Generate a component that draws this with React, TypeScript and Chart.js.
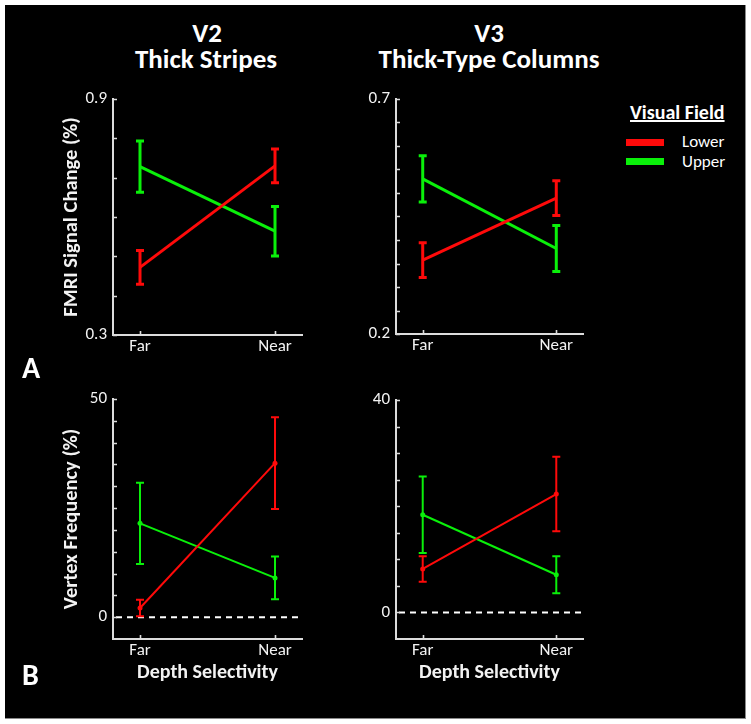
import React, { useEffect, useRef } from 'react';
import { Chart, registerables } from 'chart.js';

Chart.register(...registerables);

// ---------- data ----------
const categories = ['Far', 'Near'];
const seriesNames = ['Lower', 'Upper'];

// Panel A: fMRI signal change (%)
const v2SignalLower = [0.472, 0.73];
const v2SignalLowerErr = [0.043, 0.043];
const v2SignalUpper = [0.728, 0.564];
const v2SignalUpperErr = [0.065, 0.063];
const v2SignalTicks = [0.3, 0.4, 0.5, 0.6, 0.7, 0.8, 0.9];
const v2SignalTickLabels = ['0.3', '', '', '', '', '', '0.9'];

const v3SignalLower = [0.357, 0.489];
const v3SignalLowerErr = [0.037, 0.037];
const v3SignalUpper = [0.53, 0.382];
const v3SignalUpperErr = [0.049, 0.049];
const v3SignalTicks = [0.2, 0.25, 0.3, 0.35, 0.4, 0.45, 0.5, 0.55, 0.6, 0.65, 0.7];
const v3SignalTickLabels = ['0.2', '', '', '', '', '', '', '', '', '', '0.7'];

// Panel B: vertex frequency (%)
const v2FreqLower = [2.1, 35.3];
const v2FreqLowerErr = [1.9, 10.5];
const v2FreqUpper = [21.5, 9.0];
const v2FreqUpperErr = [9.3, 4.9];
const v2FreqTicks = [0, 5, 10, 15, 20, 25, 30, 35, 40, 45, 50];
const v2FreqTickLabels = ['0', '', '', '', '', '', '', '', '', '', '50'];

const v3FreqLower = [8.2, 22.3];
const v3FreqLowerErr = [2.4, 7.0];
const v3FreqUpper = [18.4, 7.1];
const v3FreqUpperErr = [7.2, 3.5];
const v3FreqTicks = [0, 5, 10, 15, 20, 25, 30, 35, 40];
const v3FreqTickLabels = ['0', '', '', '', '', '', '', '', '40'];

// ---------- style ----------
const FONT = "Carlito, Lato, 'Open Sans', sans-serif";
const RED = '#ff0a0a';
const GREEN = '#0af00a';
const AXIS = '#dcdcdc';
const TEXT = '#f2f2f2';

const errorBarPlugin = {
  id: 'errorBars',
  afterDatasetsDraw(chart: any, _args: any, opts: any) {
    const { ctx } = chart;
    const x = chart.scales.x;
    const y = chart.scales.y;
    chart.data.datasets.forEach((ds: any) => {
      ds.data.forEach((pt: any, i: number) => {
        const px = x.getPixelForValue(pt.x);
        const top = y.getPixelForValue(pt.y + ds.err[i]);
        const bot = y.getPixelForValue(pt.y - ds.err[i]);
        ctx.save();
        ctx.strokeStyle = ds.borderColor;
        ctx.lineWidth = opts.width;
        ctx.beginPath();
        ctx.moveTo(px, top);
        ctx.lineTo(px, bot);
        ctx.stroke();
        ctx.lineWidth = opts.capWidth;
        ctx.beginPath();
        ctx.moveTo(px - opts.cap, top);
        ctx.lineTo(px + opts.cap, top);
        ctx.moveTo(px - opts.cap, bot);
        ctx.lineTo(px + opts.cap, bot);
        ctx.stroke();
        ctx.restore();
      });
    });
  },
};

const zeroLinePlugin = {
  id: 'zeroLine',
  beforeDatasetsDraw(chart: any, _args: any, opts: any) {
    if (!opts.display) return;
    const { ctx, chartArea } = chart;
    const py = chart.scales.y.getPixelForValue(0);
    ctx.save();
    ctx.strokeStyle = '#ffffff';
    ctx.lineWidth = 2;
    ctx.setLineDash([6, 5]);
    ctx.beginPath();
    ctx.moveTo(chartArea.left + 3, py);
    ctx.lineTo(chartArea.right, py);
    ctx.stroke();
    ctx.restore();
  },
};

const innerTickPlugin = {
  id: 'innerTicks',
  afterDraw(chart: any) {
    const { ctx, chartArea } = chart;
    const x = chart.scales.x;
    const y = chart.scales.y;
    ctx.save();
    ctx.strokeStyle = AXIS;
    ctx.lineWidth = 1.6;
    ctx.beginPath();
    y.ticks.forEach((t: any) => {
      const py = Math.round(y.getPixelForValue(t.value)) + 0.5;
      ctx.moveTo(chartArea.left, py);
      ctx.lineTo(chartArea.left + 4, py);
    });
    x.ticks.forEach((t: any) => {
      const px = Math.round(x.getPixelForValue(t.value)) + 0.5;
      ctx.moveTo(px, chartArea.bottom);
      ctx.lineTo(px, chartArea.bottom - 4);
    });
    ctx.stroke();
    ctx.restore();
  },
};

type PanelSpec = {
  left: number;
  top: number;
  width: number;
  height: number;
  padTop: number;
  padRight: number;
  yWidth: number;
  xHeight: number;
  lower: number[];
  lowerErr: number[];
  upper: number[];
  upperErr: number[];
  yMin: number;
  yMax: number;
  yTicks: number[];
  yTickLabels: string[];
  yTitle?: string;
  xTitle?: string;
  lineWidth: number;
  pointRadius: number;
  errWidth: number;
  cap: number;
  zero: boolean;
};

function Panel({ spec }: { spec: PanelSpec }) {
  const ref = useRef<HTMLCanvasElement>(null);
  useEffect(() => {
    if (!ref.current) return;
    const s = spec;
    const mk = (vals: number[]) => vals.map((v, i) => ({ x: i, y: v }));
    const chart = new Chart(ref.current, {
      type: 'line',
      data: {
        datasets: [
          {
            label: seriesNames[0],
            data: mk(s.lower),
            err: s.lowerErr,
            borderColor: RED,
            backgroundColor: RED,
            borderWidth: s.lineWidth,
            pointRadius: s.pointRadius,
            pointBorderWidth: 0,
          } as any,
          {
            label: seriesNames[1],
            data: mk(s.upper),
            err: s.upperErr,
            borderColor: GREEN,
            backgroundColor: GREEN,
            borderWidth: s.lineWidth,
            pointRadius: s.pointRadius,
            pointBorderWidth: 0,
          } as any,
        ],
      },
      options: {
        animation: false,
        responsive: false,
        maintainAspectRatio: false,
        events: [],
        layout: { padding: { top: s.padTop, right: s.padRight, bottom: 0, left: 0 } },
        plugins: {
          legend: { display: false },
          tooltip: { enabled: false },
          errorBars: { width: s.errWidth, capWidth: s.errWidth, cap: s.cap },
          zeroLine: { display: s.zero },
        } as any,
        scales: {
          x: {
            type: 'linear',
            min: -0.2,
            max: 1.2,
            afterBuildTicks: (sc: any) => {
              sc.ticks = categories.map((_, i) => ({ value: i }));
            },
            afterFit: (sc: any) => {
              sc.height = s.xHeight;
            },
            ticks: {
              autoSkip: false,
              maxRotation: 0,
              color: TEXT,
              padding: 2,
              font: { family: FONT, size: 17 },
              callback: (v: any) => categories[v] ?? '',
            },
            grid: { display: false, drawTicks: false },
            border: { display: true, color: AXIS, width: 2 },
            title: s.xTitle
              ? {
                  display: true,
                  text: s.xTitle,
                  color: TEXT,
                  font: { family: FONT, size: 20, weight: 'bold' },
                  padding: { top: 0, bottom: 2 },
                }
              : { display: false },
          },
          y: {
            type: 'linear',
            min: s.yMin,
            max: s.yMax,
            afterBuildTicks: (sc: any) => {
              sc.ticks = s.yTicks.map((v) => ({ value: v }));
            },
            afterFit: (sc: any) => {
              sc.width = s.yWidth;
            },
            ticks: {
              autoSkip: false,
              color: TEXT,
              padding: 6,
              font: { family: FONT, size: 17 },
              callback: (_v: any, i: number) => s.yTickLabels[i] ?? '',
            },
            grid: { display: false, drawTicks: false },
            border: { display: true, color: AXIS, width: 2 },
            title: s.yTitle
              ? {
                  display: true,
                  text: s.yTitle,
                  color: TEXT,
                  font: { family: FONT, size: 20.5, weight: 'bold' },
                  padding: { top: 55, bottom: 0 },
                }
              : { display: false },
          },
        },
      } as any,
      plugins: [zeroLinePlugin, errorBarPlugin, innerTickPlugin],
    });
    return () => chart.destroy();
  }, [spec]);
  return (
    <canvas
      ref={ref}
      width={spec.width}
      height={spec.height}
      style={{
        position: 'absolute',
        left: spec.left,
        top: spec.top,
        width: spec.width,
        height: spec.height,
        display: 'block',
      }}
    />
  );
}

const panels: PanelSpec[] = [
  {
    left: 5, top: 80, width: 320, height: 280, padTop: 19, padRight: 23, yWidth: 108, xHeight: 25,
    lower: v2SignalLower, lowerErr: v2SignalLowerErr, upper: v2SignalUpper, upperErr: v2SignalUpperErr,
    yMin: 0.3, yMax: 0.9, yTicks: v2SignalTicks, yTickLabels: v2SignalTickLabels,
    yTitle: 'FMRI Signal Change (%)', lineWidth: 3, pointRadius: 0, errWidth: 3, cap: 4, zero: false,
  },
  {
    left: 330, top: 80, width: 280, height: 279, padTop: 19, padRight: 27, yWidth: 66, xHeight: 25,
    lower: v3SignalLower, lowerErr: v3SignalLowerErr, upper: v3SignalUpper, upperErr: v3SignalUpperErr,
    yMin: 0.2, yMax: 0.7, yTicks: v3SignalTicks, yTickLabels: v3SignalTickLabels,
    lineWidth: 3, pointRadius: 0, errWidth: 3, cap: 4, zero: false,
  },
  {
    left: 5, top: 380, width: 320, height: 307, padTop: 19, padRight: 23, yWidth: 108, xHeight: 48,
    lower: v2FreqLower, lowerErr: v2FreqLowerErr, upper: v2FreqUpper, upperErr: v2FreqUpperErr,
    yMin: -5, yMax: 50, yTicks: v2FreqTicks, yTickLabels: v2FreqTickLabels,
    yTitle: 'Vertex Frequency (%)', xTitle: 'Depth Selectivity',
    lineWidth: 2, pointRadius: 2.5, errWidth: 2, cap: 4, zero: true,
  },
  {
    left: 330, top: 380, width: 280, height: 307, padTop: 20, padRight: 27, yWidth: 66, xHeight: 48,
    lower: v3FreqLower, lowerErr: v3FreqLowerErr, upper: v3FreqUpper, upperErr: v3FreqUpperErr,
    yMin: -5, yMax: 40, yTicks: v3FreqTicks, yTickLabels: v3FreqTickLabels,
    xTitle: 'Depth Selectivity',
    lineWidth: 2, pointRadius: 2.5, errWidth: 2, cap: 4, zero: true,
  },
];

const txt = (extra: React.CSSProperties): React.CSSProperties => ({
  position: 'absolute',
  color: '#ffffff',
  fontFamily: FONT,
  whiteSpace: 'nowrap',
  ...extra,
});

export default function App() {
  return (
    <div
      style={{
        position: 'absolute',
        left: 0,
        top: 0,
        width: 751,
        height: 724,
        background: '#ffffff',
        overflow: 'hidden',
      }}
    >
      <div
        style={{
          position: 'absolute',
          left: 5,
          top: 5,
          width: 740,
          height: 713,
          background: '#000000',
          borderRight: '1px solid #8a8a8a',
          borderBottom: '1px solid #8a8a8a',
        }}
      />
      {panels.map((p, i) => (
        <Panel key={i} spec={p} />
      ))}
      {/* column titles */}
      <div style={txt({ left: 207, top: 19, fontSize: 27, lineHeight: '27px', fontWeight: 700, transform: 'translateX(-50%)' })}>V2</div>
      <div style={txt({ left: 206, top: 45, fontSize: 27, lineHeight: '27px', fontWeight: 700, transform: 'translateX(-50%)' })}>Thick Stripes</div>
      <div style={txt({ left: 489, top: 19, fontSize: 27, lineHeight: '27px', fontWeight: 700, transform: 'translateX(-50%)' })}>V3</div>
      <div style={txt({ left: 489, top: 45, fontSize: 27, lineHeight: '27px', fontWeight: 700, transform: 'translateX(-50%)' })}>Thick-Type Columns</div>
      {/* panel letters */}
      <div style={txt({ left: 22, top: 353, fontSize: 30, lineHeight: '30px', fontWeight: 700 })}>A</div>
      <div style={txt({ left: 22, top: 660, fontSize: 30, lineHeight: '30px', fontWeight: 700 })}>B</div>
      {/* legend */}
      <div style={txt({ left: 630, top: 102, fontSize: 20, lineHeight: '20px', fontWeight: 700, textDecoration: 'underline' })}>Visual Field</div>
      <div style={{ position: 'absolute', left: 626, top: 139, width: 38, height: 7, background: RED }} />
      <div style={txt({ left: 682, top: 133, fontSize: 17, lineHeight: '17px' })}>{seriesNames[0]}</div>
      <div style={{ position: 'absolute', left: 626, top: 158, width: 38, height: 7, background: GREEN }} />
      <div style={txt({ left: 682, top: 153, fontSize: 17, lineHeight: '17px' })}>{seriesNames[1]}</div>
    </div>
  );
}
